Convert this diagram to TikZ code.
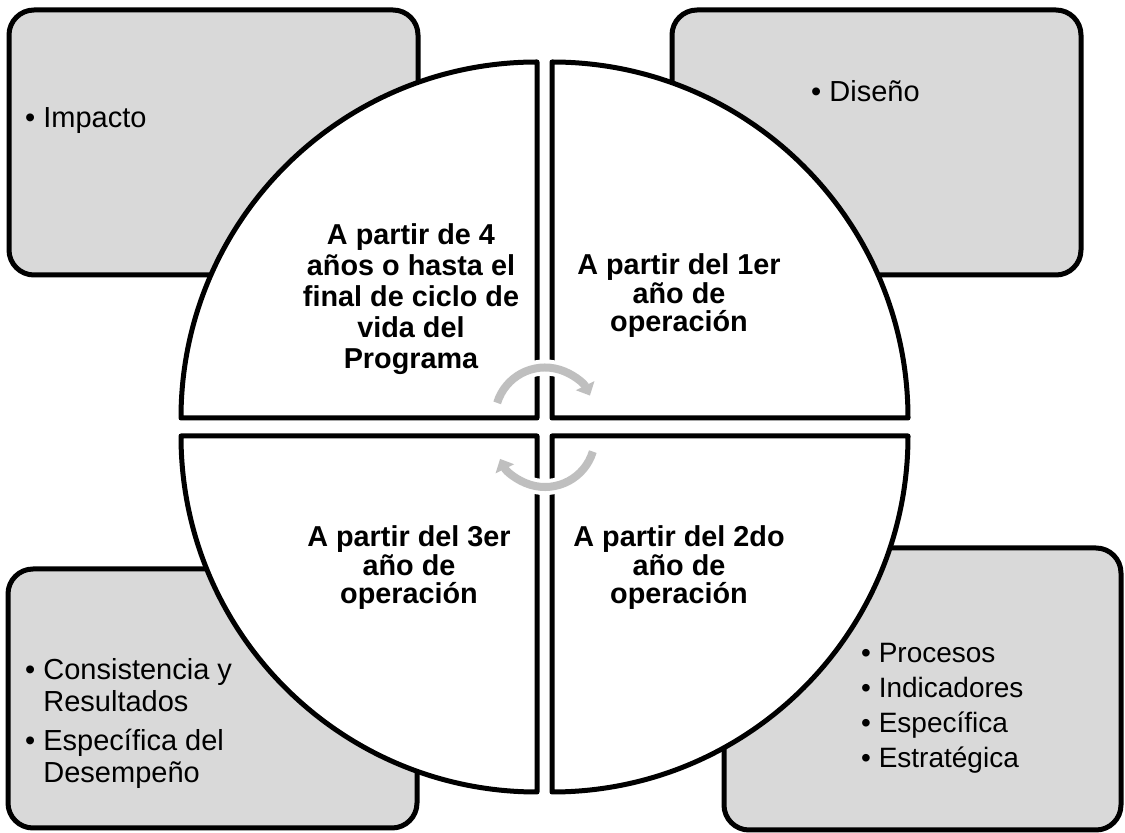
\documentclass[tikz,border=0pt]{standalone}
\usepackage{fontspec}
\setmainfont{Liberation Sans}
\usetikzlibrary{arrows.meta}
\definecolor{boxgray}{HTML}{D9D9D9}
\definecolor{arrowgray}{HTML}{BFBFBF}
\tikzset{
  cornerbox/.style={draw=black, line width=5pt, fill=boxgray, rounded corners=25pt, inner sep=0pt, outer sep=0pt},
  quadrant/.style={draw=black, line width=5pt, fill=white, line join=round},
  qtext/.style={align=center, inner sep=0pt, font=\fontsize{28.8pt}{28.5pt}\selectfont\bfseries},
  ltext/.style={inner sep=0pt, anchor=base west, font=\fontsize{29pt}{32pt}\selectfont},
  cyccase/.style={draw=white, line width=16pt},
  cycarrow/.style={draw=arrowgray, line width=8pt, -{Triangle[length=11pt,width=20pt]}}
}
\begin{document}
\begin{tikzpicture}[x=1pt,y=1pt]
\useasboundingbox (0,0) rectangle (1125,833);
% corner boxes
\node[cornerbox, minimum width=409pt, minimum height=265pt] (b1) at (213.5,690.5) {};
\node[cornerbox, minimum width=409pt, minimum height=265pt] (b2) at (876.5,690.5) {};
\node[cornerbox, minimum width=409pt, minimum height=259pt] (b3) at (212.5,134.5) {};
\node[cornerbox, minimum width=397pt, minimum height=282pt] (b4) at (922.5,144) {};
% quadrants
\draw[quadrant] (537,415) -- (181,415) arc[start angle=180, end angle=90, radius=356pt] -- cycle;
\draw[quadrant] (552,415) -- (552,771) arc[start angle=90, end angle=0, radius=356pt] -- cycle;
\draw[quadrant] (537,397) -- (181,397) arc[start angle=180, end angle=270, radius=356pt] -- cycle;
\draw[quadrant] (552,397) -- (908,397) arc[start angle=0, end angle=-90, radius=356pt] -- cycle;
% cycle arrows
\draw[cyccase] (545,415.5) ++(163:50) arc[start angle=163, end angle=40, radius=50pt];
\draw[cycarrow] (545,415.5) ++(163:50) arc[start angle=163, end angle=26, radius=50pt];
\draw[cyccase] (545,396) ++(-17:50) arc[start angle=-17, end angle=-140, radius=50pt];
\draw[cycarrow] (545,396) ++(-17:50) arc[start angle=-17, end angle=-154, radius=50pt];
% quadrant texts
\node[qtext, font=\fontsize{28.8pt}{31pt}\selectfont\bfseries] (t1) at (411,534) {A partir de 4\\años o hasta el\\final de ciclo de\\vida del\\Programa};
\node[qtext] (t2) at (679,537) {A partir del 1er\\año de\\operación};
\node[qtext] (t3) at (409,265) {A partir del 3er\\año de\\operación};
\node[qtext] (t4) at (679,265) {A partir del 2do\\año de\\operación};
% lists
\node[ltext] (l1) at (25,705) {• Impacto};
\node[ltext] (l2) at (811,731) {• Diseño};
\node[ltext] (l3) at (25,153) {\vtop{\hbox{• Consistencia y}\hbox{\phantom{• }Resultados}\vskip7pt\hbox{• Específica del}\hbox{\phantom{• }Desempeño}}};
\node[ltext, font=\fontsize{28pt}{35pt}\selectfont] (l4) at (861,170) {\vtop{\hbox{• Procesos}\hbox{• Indicadores}\hbox{• Específica}\hbox{• Estratégica}}};
\end{tikzpicture}
\end{document}
